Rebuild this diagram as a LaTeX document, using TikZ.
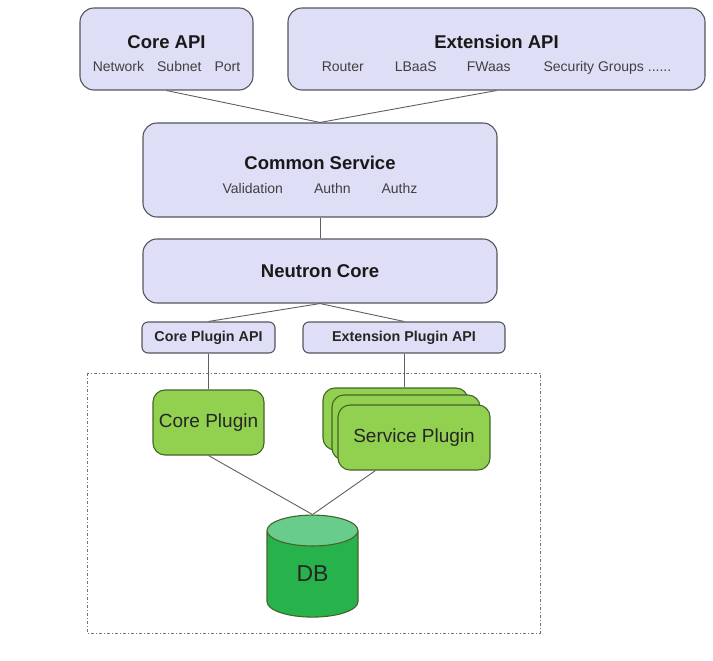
\documentclass[tikz,border=0pt]{standalone}
\usepackage{fontspec}
\setmainfont{Liberation Sans}
\usetikzlibrary{shapes.geometric}

\definecolor{lavbox}{RGB}{222,222,246}
\definecolor{boxline}{RGB}{85,85,95}
\definecolor{plugingreen}{RGB}{146,208,80}
\definecolor{pluginline}{RGB}{70,100,40}
\definecolor{dbgreen}{RGB}{40,178,76}
\definecolor{dbtop}{RGB}{104,204,140}
\definecolor{wire}{RGB}{95,95,95}

\newcommand{\boxtitle}[1]{{\fontsize{18.5}{22}\selectfont\bfseries\color{black!90}#1}}

\tikzset{
  apibox/.style={draw=boxline, fill=lavbox, line width=1.1pt, rounded corners=14pt,
    align=center, text=black!75, font=\fontsize{14}{23.4}\selectfont,
    text height=46pt, text depth=0pt},
  corebox/.style={draw=boxline, fill=lavbox, line width=1.1pt, rounded corners=14pt,
    text=black!90, font=\fontsize{18.5}{22}\selectfont\bfseries},
  plugapibox/.style={draw=boxline, fill=lavbox, line width=1.1pt, rounded corners=6pt,
    text=black!85, font=\fontsize{14.3}{17}\selectfont\bfseries},
  pluginbox/.style={draw=pluginline, fill=plugingreen, line width=1.1pt, rounded corners=12pt,
    text=black!85, font=\fontsize{19}{22}\selectfont},
  dbstore/.style={cylinder, shape border rotate=90, draw=pluginline, line width=1.1pt,
    cylinder uses custom fill, cylinder body fill=dbgreen, cylinder end fill=dbtop,
    minimum width=91pt, minimum height=102pt, aspect=0.8,
    text=black!85, font=\fontsize{23}{26}\selectfont, text height=8.5pt, text depth=0pt},
  wire/.style={draw=wire, line width=0.9pt},
  framedash/.style={draw=black!55, line width=0.8pt, dash pattern=on 3pt off 2pt on 1pt off 2pt}
}

\begin{document}
\begin{tikzpicture}[x=1pt, y=-1pt]

    \useasboundingbox (0,0) rectangle (713,661);

    % Draw the dashed frame round the plugins
    \draw[framedash] (87,373) rectangle (540,633);

    % Draw the API layer
    \node[apibox, minimum width=173pt, minimum height=82pt] (coreapi) at (166.5,49)
        {\boxtitle{Core API}\\ Network\hspace{13pt}Subnet\hspace{13pt}Port};
    \node[apibox, minimum width=417pt, minimum height=82pt] (extapi) at (496.5,49)
        {\boxtitle{Extension API}\\ Router\hspace{31pt}LBaaS\hspace{30pt}FWaas\hspace{33pt}Security Groups ......};

    % Draw the common service and the core
    \node[apibox, minimum width=354pt, minimum height=94pt] (common) at (320,170)
        {\boxtitle{Common Service}\\ Validation\hspace{31pt}Authn\hspace{31pt}Authz};
    \node[corebox, minimum width=354pt, minimum height=64pt] (neutron) at (320,271) {Neutron Core};

    % Draw the plugin APIs
    \node[plugapibox, minimum width=133pt, minimum height=31pt] (coreplugapi) at (208.5,337.5) {Core Plugin API};
    \node[plugapibox, minimum width=202pt, minimum height=31pt] (extplugapi) at (404,337.5) {Extension Plugin API};

    % Draw the plugins
    \node[pluginbox, minimum width=111pt, minimum height=65pt] (coreplug) at (208.5,422.5) {Core Plugin};
    \node[pluginbox, minimum width=145pt, minimum height=62pt] (servback) at (395.5,419) {};
    \node[pluginbox, minimum width=148pt, minimum height=65pt] (servmid) at (406,427.5) {};
    \node[pluginbox, minimum width=152pt, minimum height=65pt] (servplug) at (414,437.5) {Service Plugin};

    % Draw the database
    \node[dbstore] (db) at (312.5,577) {DB};

    % Connect the layers
    \draw[wire] (coreapi.south) -- (common.north);
    \draw[wire] (extapi.south) -- (common.north);
    \draw[wire] (common) -- (neutron);
    \draw[wire] (neutron.south) -- (coreplugapi.north);
    \draw[wire] (neutron.south) -- (extplugapi.north);
    \draw[wire] (coreplugapi) -- (coreplug);
    \draw[wire] (extplugapi.south) -- (extplugapi.south |- servback.north);
    \draw[wire] (coreplug.south) -- (db.north);
    \draw[wire] ([xshift=38pt]servplug.south west) -- (db.north);

\end{tikzpicture}
\end{document}
